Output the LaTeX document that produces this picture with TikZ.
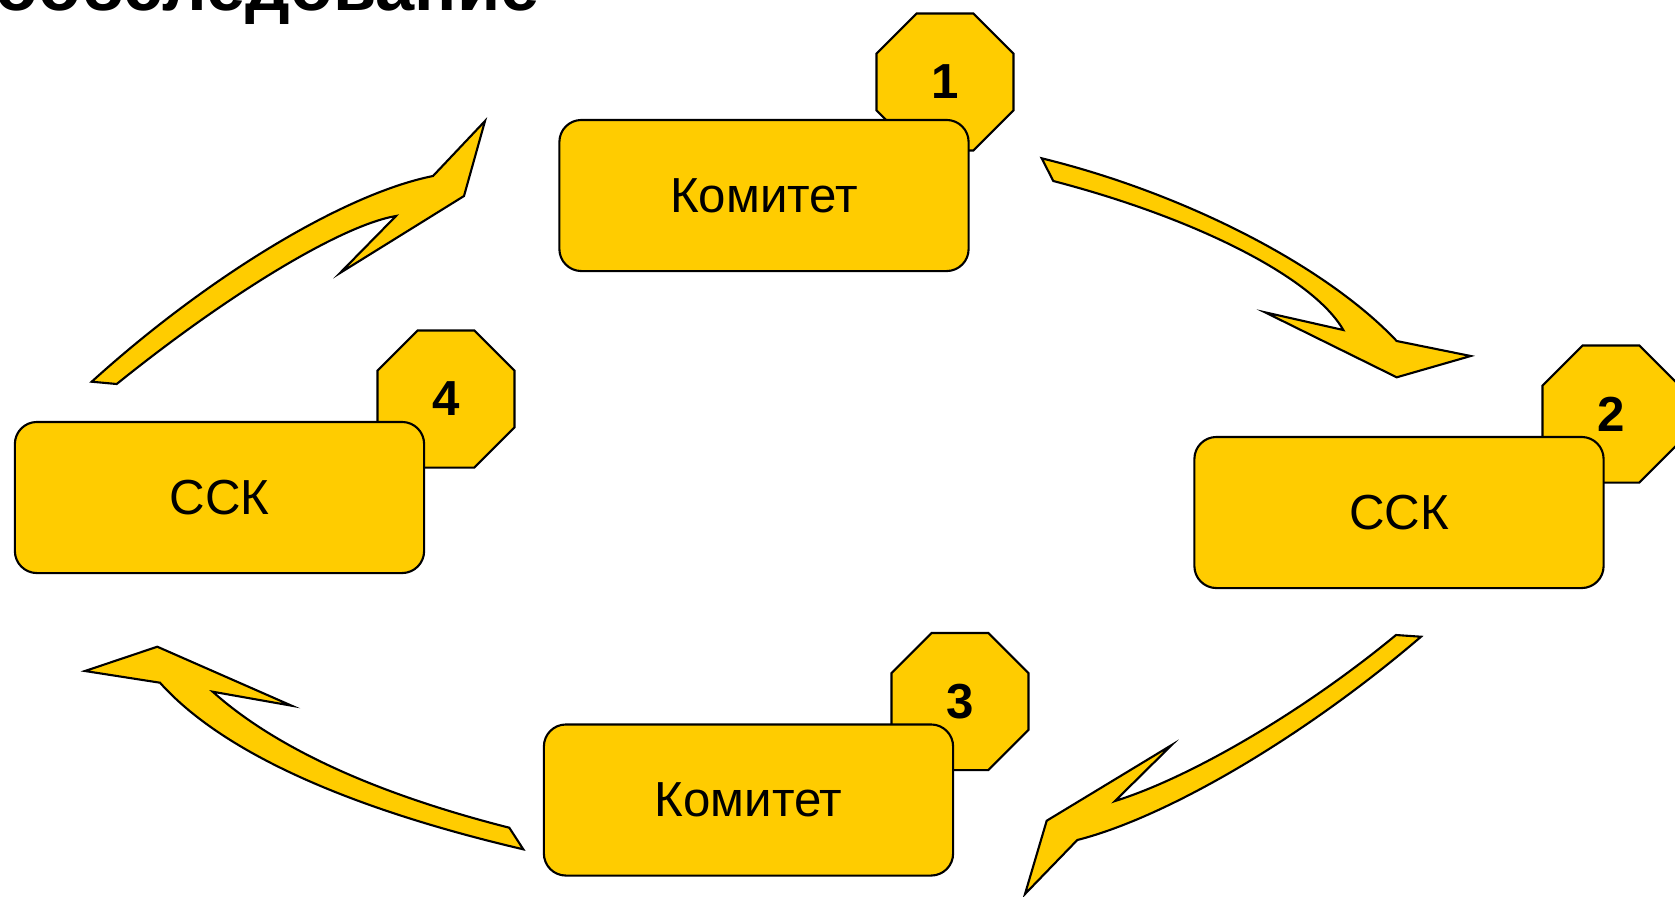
\documentclass[tikz,border=0pt]{standalone}
\usepackage{fontspec}
\setmainfont{Liberation Sans}
\usepackage{xcolor}
\usepackage{tikz}
\usetikzlibrary{positioning,shapes.geometric}
\definecolor{SlideGold}{RGB}{255,204,0}
\tikzset{
    stagebox/.style={rectangle, rounded corners=0.22cm, draw=black, fill=SlideGold, line width=0.6pt, minimum width=4.09cm, minimum height=1.51cm, inner sep=0pt, font=\fontsize{14}{16}\selectfont},
    stageoct/.style={regular polygon, regular polygon sides=8, draw=black, fill=SlideGold, line width=0.6pt, minimum size=1.483cm, inner sep=0pt, font=\bfseries\fontsize{14}{16}\selectfont}
}

\begin{document}
\begin{tikzpicture}[
        % 1 don vi = 1 px cua hinh goc, truc y huong xuong
        x=0.01cm, y=-0.01cm,
        % Style mui ten cong
        cyclearrow/.style={
            fill=SlideGold,
            draw=black,
            line width=0.6pt,
            line join=miter
        }
    ]
        \useasboundingbox (0,0) rectangle (1675,896);
        \clip (0,0) rectangle (1675,896);

        % --- 1. TIEU DE (bi cat o mep tren) ---
        \node[anchor=base east, inner sep=0pt, font=\bfseries\fontsize{20}{24}\selectfont] (title) at (540,10) {Самообследование};

        % --- 2. CAC SO THU TU ---
        \node[stageoct] (oct1) at (945,82) {1};
        \node[stageoct] (oct2) at (1611,414) {2};
        \node[stageoct] (oct3) at (960,701.5) {3};
        \node[stageoct] (oct4) at (446,399) {4};

        % --- 3. CAC KHOI ---
        \node[stagebox] (box1) at (764,195.5) {Комитет};
        \node[stagebox] (box2) at (1399,512.5) {ССК};
        \node[stagebox] (box3) at (748.5,800) {Комитет};
        \node[stagebox] (box4) at (219.5,497.5) {ССК};

        % --- 4. MUI TEN CONG ---
        % 1 -> 2
        \filldraw[cyclearrow] (1053.3,181) -- (1041.7,158.3)
            .. controls (1184,193) and (1326,266) .. (1396.7,341)
            -- (1470.7,356) -- (1396.7,377.3) -- (1265,312.3) -- (1343.3,330)
            .. controls (1313.7,278.2) and (1197.7,218.6) .. (1053.3,181)
            -- cycle;
        % 2 -> 3
        \filldraw[cyclearrow] (1396,635) -- (1421,636.7)
            .. controls (1305.8,735.5) and (1168.3,816.8) .. (1077.3,840)
            -- (1025,894) -- (1046.7,820.7) -- (1171.7,745) -- (1115,801)
            .. controls (1192.3,776.8) and (1304.7,710.4) .. (1396,635)
            -- cycle;
        % 3 -> 4
        \filldraw[cyclearrow] (509.3,827.7) -- (523.3,849.3)
            .. controls (344.3,807.4) and (220.8,750.7) .. (160,682.7)
            -- (85,671) -- (157.3,646.7) -- (291.7,705.7) -- (212.7,691.7)
            .. controls (275.9,748.3) and (376.7,794) .. (509.3,827.7)
            -- cycle;
        % 4 -> 1
        \filldraw[cyclearrow] (116.7,384) -- (91.7,381.7)
            .. controls (208.3,276) and (344.8,193.6) .. (433,176)
            -- (485,121) -- (464,196) -- (340,273) -- (396,216)
            .. controls (342.4,225) and (230.6,292.2) .. (116.7,384)
            -- cycle;

    \end{tikzpicture}
\end{document}
